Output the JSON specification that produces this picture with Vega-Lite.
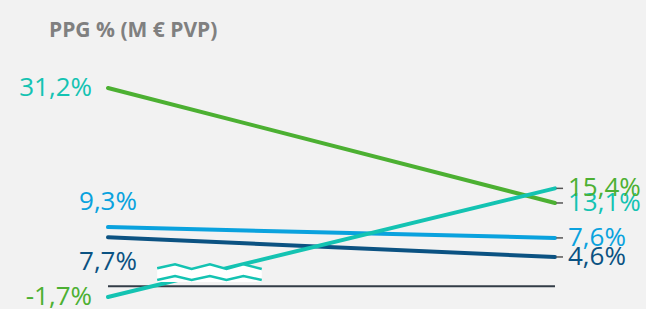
{
  "$schema": "https://vega.github.io/schema/vega-lite/v6.json",
  "width": 646,
  "height": 309,
  "padding": 0,
  "autosize": "none",
  "background": "#f2f2f2",
  "config": {"view": {"stroke": null}, "font": "Open Sans"},
  "title": {"text": "PPG % (M € PVP)", "anchor": "start", "frame": "group", "offset": -58, "dx": 49, "fontSize": 21, "fontWeight": "bold", "color": "#808080", "font": "Open Sans", "baseline": "alphabetic"},
  "datasets": {
    "lines": [
      {"series": "Serie 1", "labelSeries": "Serie 2", "x": 0, "value": 31.2, "label": "31,2%"},
      {"series": "Serie 1", "labelSeries": "Serie 2", "x": 1, "value": 13.1, "label": "13,1%"},
      {"series": "Serie 3", "labelSeries": "Serie 3", "x": 0, "value": 9.3, "label": "9,3%"},
      {"series": "Serie 3", "labelSeries": "Serie 3", "x": 1, "value": 7.6, "label": "7,6%"},
      {"series": "Serie 4", "labelSeries": "Serie 4", "x": 0, "value": 7.7, "label": "7,7%"},
      {"series": "Serie 4", "labelSeries": "Serie 4", "x": 1, "value": 4.6, "label": "4,6%"},
      {"series": "Serie 2", "labelSeries": "Serie 1", "x": 0, "value": -1.7, "label": "-1,7%"},
      {"series": "Serie 2", "labelSeries": "Serie 1", "x": 1, "value": 15.4, "label": "15,4%"}
    ],
    "baseline": [{"x0": 0, "x1": 1, "v": 0}],
    "zigzag": [
      {"x": 0.110, "top": 2.82, "mid": 0.98, "bottom": 0.66},
      {"x": 0.150, "top": 3.45, "mid": 1.61, "bottom": 0.66},
      {"x": 0.187, "top": 2.71, "mid": 0.98, "bottom": 0.66},
      {"x": 0.228, "top": 3.45, "mid": 1.61, "bottom": 0.66},
      {"x": 0.265, "top": 2.71, "mid": 0.98, "bottom": 0.66},
      {"x": 0.303, "top": 3.45, "mid": 1.61, "bottom": 0.66},
      {"x": 0.344, "top": 2.71, "mid": 0.98, "bottom": 0.66}
    ]
  },
  "layer": [
    {
      "data": {"name": "baseline"},
      "mark": {"type": "rule", "color": "#333d47", "strokeWidth": 2},
      "encoding": {
        "x": {"field": "x0", "type": "quantitative", "scale": {"domain": [-0.2416, 1.2036], "nice": false, "zero": false}, "axis": null},
        "x2": {"field": "x1"},
        "y": {"field": "v", "type": "quantitative", "scale": {"domain": [-3.59, 45.05], "nice": false, "zero": false}, "axis": null}
      }
    },
    {
      "data": {"name": "lines"},
      "mark": {"type": "line", "strokeWidth": 4, "strokeCap": "round"},
      "encoding": {
        "x": {"field": "x", "type": "quantitative", "scale": {"domain": [-0.2416, 1.2036], "nice": false, "zero": false}, "axis": null},
        "y": {"field": "value", "type": "quantitative", "scale": {"domain": [-3.59, 45.05], "nice": false, "zero": false}, "axis": null},
        "color": {"field": "series", "type": "nominal", "scale": {"domain": ["Serie 1", "Serie 2", "Serie 3", "Serie 4"], "range": ["#4cb032", "#14c3b2", "#0aa2de", "#0b5282"]}, "legend": null},
        "order": {"field": "x"}
      }
    },
    {
      "data": {"name": "zigzag"},
      "mark": {"type": "area", "color": "#ffffff", "opacity": 1},
      "encoding": {
        "x": {"field": "x", "type": "quantitative", "scale": {"domain": [-0.2416, 1.2036], "nice": false, "zero": false}, "axis": null},
        "y": {"field": "top", "type": "quantitative", "scale": {"domain": [-3.59, 45.05], "nice": false, "zero": false}, "axis": null},
        "y2": {"field": "bottom"}
      }
    },
    {
      "data": {"name": "zigzag"},
      "mark": {"type": "line", "color": "#14c3b2", "strokeWidth": 2.5},
      "encoding": {
        "x": {"field": "x", "type": "quantitative", "scale": {"domain": [-0.2416, 1.2036], "nice": false, "zero": false}, "axis": null},
        "y": {"field": "top", "type": "quantitative", "scale": {"domain": [-3.59, 45.05], "nice": false, "zero": false}, "axis": null}
      }
    },
    {
      "data": {"name": "zigzag"},
      "mark": {"type": "line", "color": "#14c3b2", "strokeWidth": 2.5},
      "encoding": {
        "x": {"field": "x", "type": "quantitative", "scale": {"domain": [-0.2416, 1.2036], "nice": false, "zero": false}, "axis": null},
        "y": {"field": "mid", "type": "quantitative", "scale": {"domain": [-3.59, 45.05], "nice": false, "zero": false}, "axis": null}
      }
    },
    {
      "data": {"name": "lines"},
      "transform": [{"filter": "datum.x == 1"}],
      "mark": {"type": "rule", "color": "#555555", "strokeWidth": 1.5},
      "encoding": {
        "x": {"datum": 1.003, "type": "quantitative", "scale": {"domain": [-0.2416, 1.2036], "nice": false, "zero": false}, "axis": null},
        "x2": {"datum": 1.018},
        "y": {"field": "value", "type": "quantitative", "scale": {"domain": [-3.59, 45.05], "nice": false, "zero": false}, "axis": null}
      }
    },
    {
      "data": {"name": "lines"},
      "transform": [{"filter": "datum.x == 1"}],
      "mark": {"type": "text", "align": "left", "baseline": "middle", "dx": 13, "fontSize": 26, "font": "Open Sans"},
      "encoding": {
        "x": {"field": "x", "type": "quantitative", "scale": {"domain": [-0.2416, 1.2036], "nice": false, "zero": false}, "axis": null},
        "y": {"field": "value", "type": "quantitative", "scale": {"domain": [-3.59, 45.05], "nice": false, "zero": false}, "axis": null},
        "text": {"field": "label"},
        "color": {"field": "labelSeries", "type": "nominal", "scale": {"domain": ["Serie 1", "Serie 2", "Serie 3", "Serie 4"], "range": ["#4cb032", "#14c3b2", "#0aa2de", "#0b5282"]}, "legend": null}
      }
    },
    {
      "data": {"name": "lines"},
      "transform": [{"filter": "datum.x == 0 && (datum.series == 'Serie 1' || datum.series == 'Serie 2')"}],
      "mark": {"type": "text", "align": "right", "baseline": "middle", "dx": -16, "fontSize": 26, "font": "Open Sans"},
      "encoding": {
        "x": {"field": "x", "type": "quantitative", "scale": {"domain": [-0.2416, 1.2036], "nice": false, "zero": false}, "axis": null},
        "y": {"field": "value", "type": "quantitative", "scale": {"domain": [-3.59, 45.05], "nice": false, "zero": false}, "axis": null},
        "text": {"field": "label"},
        "color": {"field": "labelSeries", "type": "nominal", "scale": {"domain": ["Serie 1", "Serie 2", "Serie 3", "Serie 4"], "range": ["#4cb032", "#14c3b2", "#0aa2de", "#0b5282"]}, "legend": null}
      }
    },
    {
      "data": {"name": "lines"},
      "transform": [{"filter": "datum.x == 0 && datum.series == 'Serie 3'"}],
      "mark": {"type": "text", "align": "right", "baseline": "middle", "dx": 29, "dy": -25, "fontSize": 26, "font": "Open Sans"},
      "encoding": {
        "x": {"field": "x", "type": "quantitative", "scale": {"domain": [-0.2416, 1.2036], "nice": false, "zero": false}, "axis": null},
        "y": {"field": "value", "type": "quantitative", "scale": {"domain": [-3.59, 45.05], "nice": false, "zero": false}, "axis": null},
        "text": {"field": "label"},
        "color": {"field": "labelSeries", "type": "nominal", "scale": {"domain": ["Serie 1", "Serie 2", "Serie 3", "Serie 4"], "range": ["#4cb032", "#14c3b2", "#0aa2de", "#0b5282"]}, "legend": null}
      }
    },
    {
      "data": {"name": "lines"},
      "transform": [{"filter": "datum.x == 0 && datum.series == 'Serie 4'"}],
      "mark": {"type": "text", "align": "right", "baseline": "middle", "dx": 29, "dy": 25, "fontSize": 26, "font": "Open Sans"},
      "encoding": {
        "x": {"field": "x", "type": "quantitative", "scale": {"domain": [-0.2416, 1.2036], "nice": false, "zero": false}, "axis": null},
        "y": {"field": "value", "type": "quantitative", "scale": {"domain": [-3.59, 45.05], "nice": false, "zero": false}, "axis": null},
        "text": {"field": "label"},
        "color": {"field": "labelSeries", "type": "nominal", "scale": {"domain": ["Serie 1", "Serie 2", "Serie 3", "Serie 4"], "range": ["#4cb032", "#14c3b2", "#0aa2de", "#0b5282"]}, "legend": null}
      }
    }
  ]
}
